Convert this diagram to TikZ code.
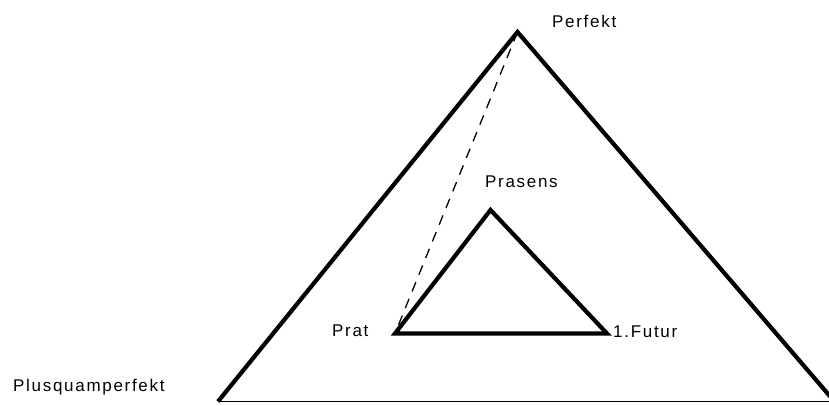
\documentclass[tikz,border=0pt]{standalone}
\usepackage{fontspec}
\setmainfont{Liberation Sans}
\begin{document}
\begin{tikzpicture}[x=1pt,y=-1pt,
  lbl/.style={anchor=base west,inner sep=0pt,font=\fontsize{17}{20}\selectfont\addfontfeature{LetterSpace=10}},
  thick edge/.style={line width=4.2pt,line join=miter,line cap=butt},
  thin edge/.style={line width=1.6pt},
  dash edge/.style={line width=1.3pt,dash pattern=on 10pt off 8pt}]
\useasboundingbox (0,0) rectangle (829,405);
\fill[white] (0,0) rectangle (829,405);
\begin{scope}
\clip (0,0) rectangle (829,405);
% outer triangle vertices
\coordinate (oA) at (517.5,32);
\coordinate (oL) at (218,401.5);
\coordinate (oR) at (834.5,401.5);
% inner triangle vertices
\coordinate (iA) at (490.5,210);
\coordinate (iL) at (395,333.5);
\coordinate (iR) at (607,333.5);
\draw[thick edge] (oL) -- (oA) -- (oR);
\draw[thin edge] (oL) -- (oR);
\draw[thick edge] (iL) -- (iA) -- (iR) -- cycle;
\draw[dash edge] (oA) -- (iL);
\end{scope}
\node[lbl] (perfekt) at (552,27) {Perfekt};
\node[lbl] (prasens) at (485,187) {Prasens};
\node[lbl] (prat) at (332,336) {Prat};
\node[lbl] (futur) at (613,337) {1.Futur};
\node[lbl] (plusq) at (13,391) {Plusquamperfekt};
\end{tikzpicture}
\end{document}
